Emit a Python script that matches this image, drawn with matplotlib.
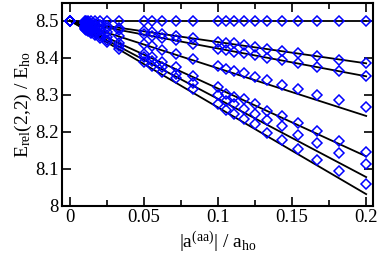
import numpy as np
import matplotlib
matplotlib.use("Agg")
import matplotlib.pyplot as plt
from matplotlib.ticker import MultipleLocator, FuncFormatter

# ── data ─────────────────────────────────────────────────────────────────────

x_vals = [0, 0.0100, 0.0111, 0.0125, 0.0143, 0.0167, 0.0200, 0.0250, 0.0333,
          0.0500, 0.0556, 0.0625, 0.0714, 0.0833, 0.1000, 0.1053, 0.1111,
          0.1176, 0.1250, 0.1333, 0.1429, 0.1538, 0.1667, 0.1818, 0.2000]

s1 = [8.500, 8.500, 8.500, 8.500, 8.500, 8.500, 8.500, 8.500, 8.500, 8.500,
      8.500, 8.500, 8.500, 8.500, 8.500, 8.500, 8.500, 8.500, 8.500, 8.500,
      8.500, 8.500, 8.500, 8.500, 8.500]
s2 = [8.500, 8.494, 8.494, 8.493, 8.492, 8.491, 8.489, 8.486, 8.481, 8.472,
      8.469, 8.465, 8.460, 8.453, 8.443, 8.441, 8.439, 8.434, 8.430, 8.425,
      8.419, 8.412, 8.405, 8.395, 8.386]
s3 = [8.500, 8.493, 8.492, 8.491, 8.489, 8.488, 8.485, 8.481, 8.476, 8.463,
      8.459, 8.454, 8.447, 8.438, 8.425, 8.421, 8.416, 8.412, 8.407, 8.400,
      8.394, 8.385, 8.376, 8.365, 8.350]
s4 = [8.500, 8.487, 8.486, 8.484, 8.482, 8.479, 8.475, 8.469, 8.458, 8.438,
      8.431, 8.422, 8.411, 8.396, 8.378, 8.371, 8.365, 8.358, 8.349, 8.340,
      8.326, 8.315, 8.300, 8.286, 8.266]
s5 = [8.500, 8.482, 8.480, 8.478, 8.474, 8.470, 8.464, 8.456, 8.441, 8.411,
      8.402, 8.388, 8.374, 8.352, 8.322, 8.302, 8.293, 8.288, 8.275, 8.257,
      8.242, 8.224, 8.202, 8.176, 8.146]
s6 = [8.500, 8.479, 8.477, 8.474, 8.471, 8.466, 8.459, 8.449, 8.432, 8.402,
      8.390, 8.375, 8.357, 8.332, 8.299, 8.284, 8.275, 8.263, 8.248, 8.232,
      8.215, 8.192, 8.170, 8.142, 8.112]
s7 = [8.500, 8.477, 8.474, 8.471, 8.467, 8.462, 8.454, 8.443, 8.424, 8.388,
      8.379, 8.361, 8.345, 8.316, 8.275, 8.260, 8.248, 8.234, 8.221, 8.198,
      8.178, 8.154, 8.125, 8.094, 8.058]
series = [s1, s2, s3, s4, s5, s6, s7]

# straight fits: all start at (0, 8.5), end values at x = 0.2
fit_x = [0.0, 0.2]
fit_start = 8.5
fit_end = [8.500, 8.385, 8.350, 8.243, 8.134, 8.078, 8.032]

# ── plot ──────────────────────────────────────────────────────────────────────

plt.rcParams["font.family"] = ["Liberation Serif", "DejaVu Serif"]
plt.rcParams["mathtext.fontset"] = "custom"
plt.rcParams["mathtext.rm"] = "Liberation Serif"
plt.rcParams["mathtext.it"] = "Liberation Serif"

fig = plt.figure(figsize=(3.82, 2.66), dpi=100)
ax = fig.add_axes([0.162, 0.2256, 0.814, 0.7634])

for end in fit_end:
    ax.plot(fit_x, [fit_start, end], color="black", lw=1.3, zorder=2)

for s in series:
    ax.plot(x_vals, s, ls="none", marker="D", ms=4.8, mfc="none",
            mec="#0000ff", mew=1.1, zorder=3)

ax.set_xlim(-0.0054, 0.2045)
ax.set_ylim(8.0, 8.548)

ax.xaxis.set_major_locator(MultipleLocator(0.05))
ax.xaxis.set_minor_locator(MultipleLocator(0.025))
ax.yaxis.set_major_locator(MultipleLocator(0.1))
ax.xaxis.set_major_formatter(FuncFormatter(lambda v, p: f"{v:g}"))
ax.yaxis.set_major_formatter(FuncFormatter(lambda v, p: f"{round(v, 2):g}"))

ax.tick_params(which="both", direction="in", top=True, right=True,
               width=1.2, labelsize=13.5, pad=2)
ax.tick_params(which="major", length=6.5)
ax.tick_params(which="minor", length=4.2)
for sp in ax.spines.values():
    sp.set_linewidth(1.5)

ax.set_ylabel(r"$\mathregular{E_{rel}(2{,}2)\ /\ E_{ho}}$", fontsize=14, labelpad=1)
ax.set_xlabel(r"$\mathregular{|a^{(aa)}|\ /\ a_{ho}}$", fontsize=14, labelpad=3)

fig.savefig("out.png", dpi=100)
